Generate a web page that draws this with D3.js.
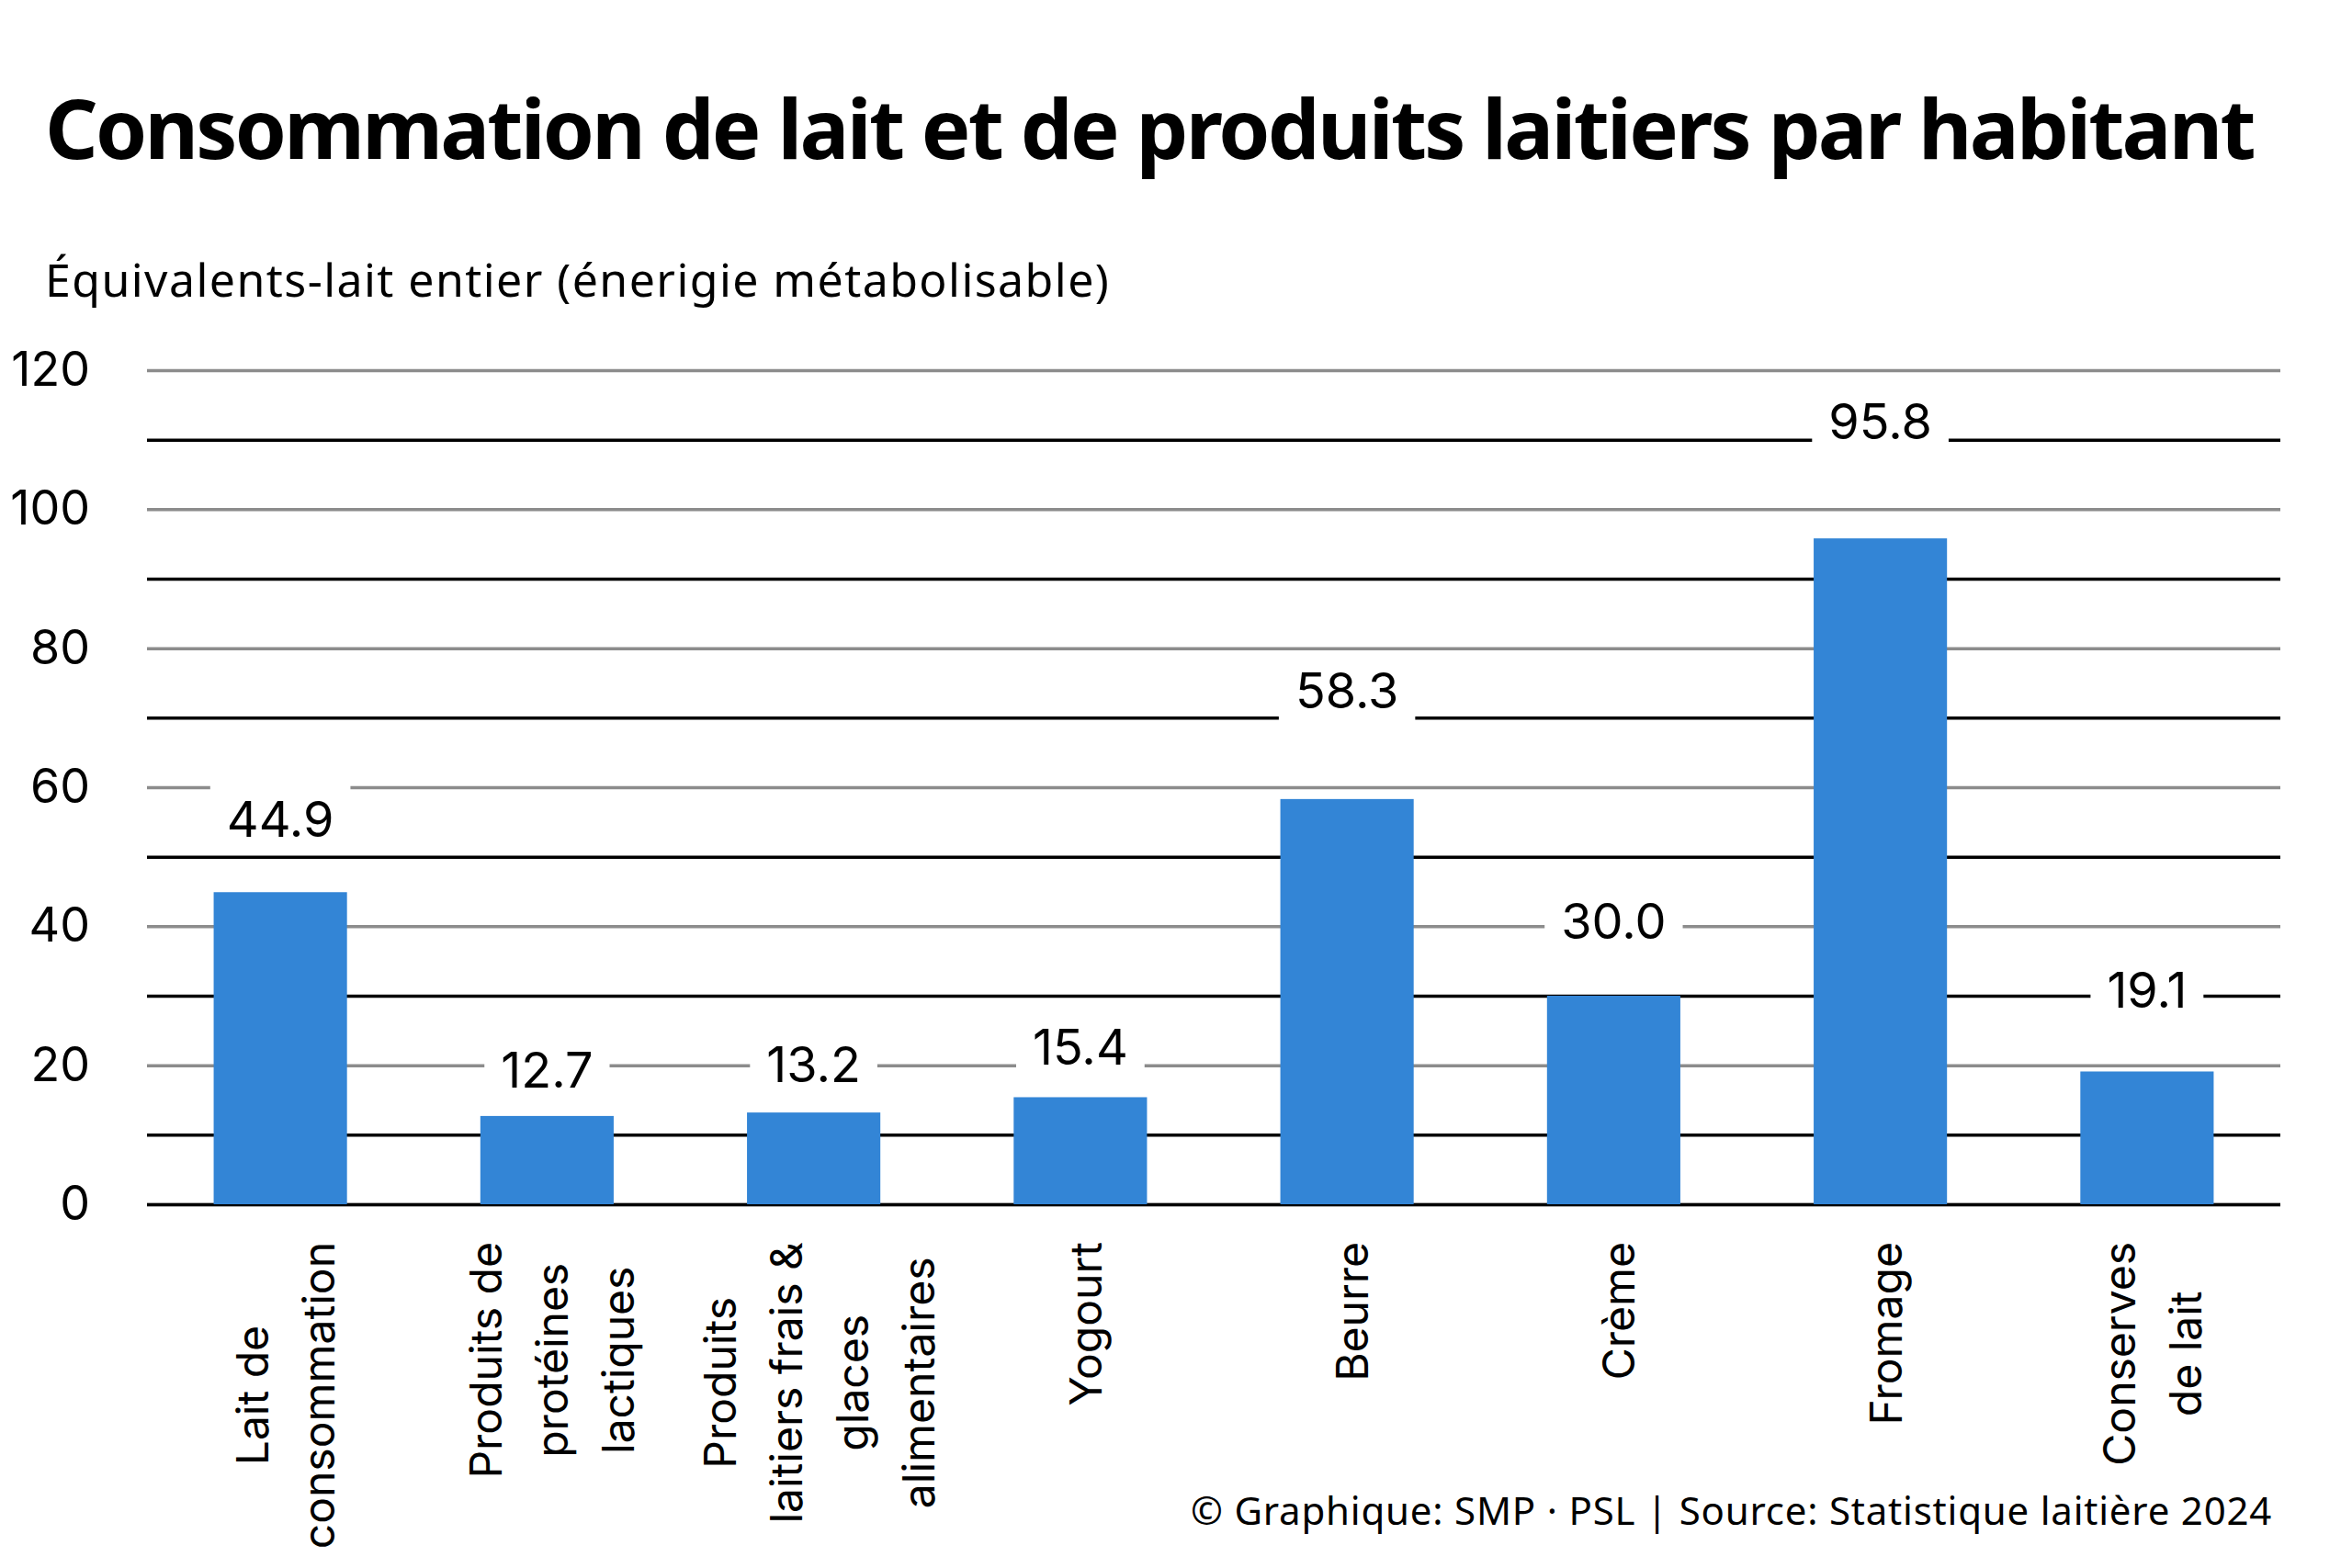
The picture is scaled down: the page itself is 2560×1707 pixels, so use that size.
<!doctype html>
<html>
<head>
<meta charset="utf-8">
<title>Consommation de lait</title>
<style>
*{margin:0;padding:0;}
body{background:white;}
</style>
</head>
<body>
<script src="https://cdn.jsdelivr.net/npm/d3@7"></script>
<script>
// données
var categories = ["Lait de\nconsommation", "Produits de\nprotéines\nlactiques",
  "Produits\nlaitiers frais &\nglaces\nalimentaires", "Yogourt", "Beurre", "Crème",
  "Fromage", "Conserves\nde lait"];
var values = [44.9, 12.7, 13.2, 15.4, 58.3, 30.0, 95.8, 19.1];
// hauteur (en unités) où se trouve chaque étiquette de valeur
var labelAt = [55.5, 19.4, 20.1, 22.6, 73.9, 40.7, 112.7, 30.8];
var majorTicks = [0, 20, 40, 60, 80, 100, 120];
var minorTicks = [0, 10, 30, 50, 70, 90, 110];

var W = 2560, H = 1707;
var plotL = 160, plotR = 2482, plotT = 403, plotB = 1311;
var font = "Inter, 'Noto Sans', sans-serif";

var svg = d3.select("body").append("svg")
  .attr("width", W).attr("height", H)
  .style("font-family", font);

var x = d3.scaleBand().domain(categories).range([plotL, plotR])
  .paddingInner(0.5).paddingOuter(0.25);
var y = d3.scaleLinear().domain([0, 120]).range([plotB, plotT]);

// ajuste l'espacement des lettres pour tenir dans une largeur
function fit(sel, width) {
  var node = sel.node();
  var n = node.getNumberOfChars();
  var w = node.getComputedTextLength();
  sel.attr("letter-spacing", ((width - w) / n).toFixed(2));
}

// titre
var title = svg.append("text")
  .attr("x", 49).attr("y", 173)
  .attr("font-family", "'Noto Sans', sans-serif")
  .attr("font-weight", 700).attr("font-size", 90)
  .text("Consommation de lait et de produits laitiers par habitant");
fit(title, 2404);

// sous-titre
var sub = svg.append("text")
  .attr("x", 49).attr("y", 323)
  .attr("font-family", "'Noto Sans', sans-serif")
  .attr("font-size", 50)
  .text("Équivalents-lait entier (énerigie métabolisable)");
fit(sub, 1159);

// grille grise + étiquettes de l'axe y
var gy = svg.append("g").attr("transform", "translate(" + plotL + ",0)")
  .call(d3.axisLeft(y).tickValues(majorTicks).tickSize(-(plotR - plotL)).tickPadding(62));
gy.select(".domain").remove();
gy.selectAll(".tick line").attr("stroke", "#8c8c8c").attr("stroke-width", 3.5);
gy.selectAll(".tick text").attr("font-size", 52).attr("fill", "#000")
  .attr("font-family", font);

// lignes noires intermédiaires
var gm = svg.append("g").attr("transform", "translate(" + plotL + ",0)")
  .call(d3.axisLeft(y).tickValues(minorTicks).tickSize(-(plotR - plotL)).tickFormat(""));
gm.select(".domain").remove();
gm.selectAll(".tick line").attr("stroke", "#000").attr("stroke-width", 3.5);

// barres
svg.selectAll(".bar").data(values).enter().append("rect")
  .attr("class", "bar")
  .attr("x", function(d, i) { return x(categories[i]); })
  .attr("width", x.bandwidth())
  .attr("y", function(d) { return y(d); })
  .attr("height", function(d) { return y(0) - y(d); })
  .attr("fill", "#3385d6");

// étiquettes de valeur avec fond blanc
var lab = svg.selectAll(".lab").data(values).enter().append("g").attr("class", "lab")
  .attr("transform", function(d, i) {
    return "translate(" + (x(categories[i]) + x.bandwidth() / 2) + "," + y(labelAt[i]) + ")";
  });
var labRect = lab.append("rect").attr("fill", "#fff");
var labText = lab.append("text")
  .attr("text-anchor", "middle").attr("dy", "0.36em")
  .attr("font-size", 54)
  .text(function(d) { return d.toFixed(1); });
labText.each(function(d, i) {
  var w = this.getComputedTextLength() + 36;
  d3.select(labRect.nodes()[i])
    .attr("x", -w / 2).attr("width", w)
    .attr("y", -39).attr("height", 78);
});

// étiquettes de l'axe x, tournées
var gx = svg.append("g").attr("transform", "translate(0," + plotB + ")")
  .call(d3.axisBottom(x).tickSize(0).tickFormat(""));
gx.select(".domain").remove();
gx.selectAll(".tick").each(function(d) {
  var lines = d.split("\n");
  var n = lines.length;
  var t = d3.select(this).selectAll(".cl").data(lines).enter().append("text")
    .attr("class", "cl")
    .attr("font-size", 48).attr("fill", "#000")
    .attr("font-family", font)
    .attr("text-anchor", "middle")
    .text(function(s) { return s; });
  var maxW = d3.max(t.nodes(), function(nd) { return nd.getComputedTextLength(); });
  t.attr("transform", function(s, i) {
    return "translate(" + ((i - (n - 1) / 2) * 72 + 23) + "," + (41 + maxW / 2) + ") rotate(-90)";
  });
});

// source
var src = svg.append("text")
  .attr("x", 1296).attr("y", 1660)
  .attr("font-family", "'Noto Sans', sans-serif")
  .attr("font-size", 42)
  .text("© Graphique: SMP · PSL | Source: Statistique laitière 2024");
fit(src, 1177);
</script>
</body>
</html>
